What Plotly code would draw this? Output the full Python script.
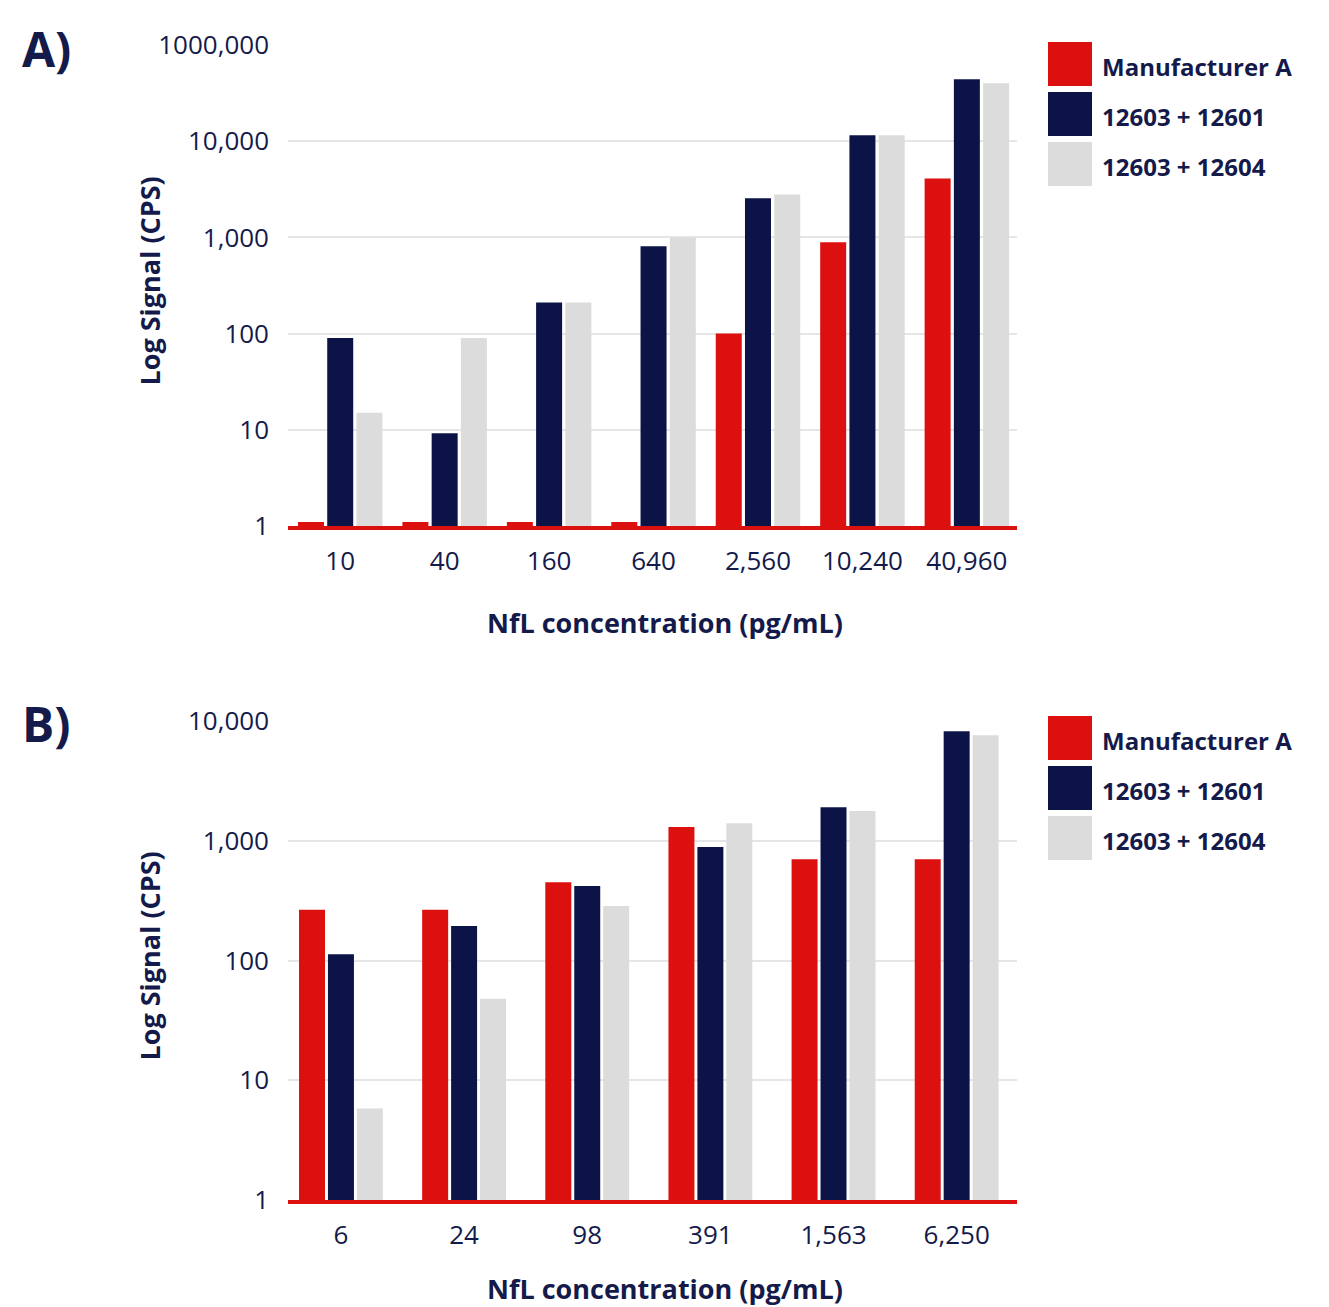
import plotly.graph_objects as go

# ---- data -------------------------------------------------------------
series_names = ["Manufacturer A", "12603 + 12601", "12603 + 12604"]
series_colors = ["#dd1010", "#0c1447", "#dcdcdc"]

conc_a = ["10", "40", "160", "640", "2,560", "10,240", "40,960"]
manufacturer_a_a = [1.1, 1.1, 1.1, 1.1, 100, 890, 4100]
pair_12601_a = [90, 9.2, 210, 810, 2550, 11500, 44000]
pair_12604_a = [15, 90, 210, 1000, 2800, 11500, 40000]

conc_b = ["6", "24", "98", "391", "1,563", "6,250"]
manufacturer_a_b = [265, 265, 450, 1300, 700, 700]
pair_12601_b = [113, 194, 418, 885, 1900, 8200]
pair_12604_b = [5.8, 48, 285, 1400, 1770, 7600]

ticks_a = [1, 10, 100, 1000, 10000, 100000]
ticktext_a = ["1", "10", "100", "1,000", "10,000", "1000,000"]
ticks_b = [1, 10, 100, 1000, 10000]
ticktext_b = ["1", "10", "100", "1,000", "10,000"]

# ---- figure geometry --------------------------------------------------
W, H = 1329, 1307
TXT = "#141a4a"
FONT = "Open Sans"


def px_x(x):
    return x / W


def px_y(y):
    return 1 - y / H


fig = go.Figure()

panels = [
    dict(cats=conc_a, vals=[manufacturer_a_a, pair_12601_a, pair_12604_a],
         xa="x", ya="y", bar_w=0.249, slot=0.28),
    dict(cats=conc_b, vals=[manufacturer_a_b, pair_12601_b, pair_12604_b],
         xa="x2", ya="y2", bar_w=0.211, slot=0.235),
]

for p in panels:
    for i, (name, color, vals) in enumerate(zip(series_names, series_colors, p["vals"])):
        fig.add_trace(go.Bar(
            x=p["cats"], y=vals, name=name, marker_color=color,
            marker_line_width=0, width=p["bar_w"],
            offset=(i - 1) * p["slot"] - p["bar_w"] / 2,
            xaxis=p["xa"], yaxis=p["ya"], showlegend=False,
        ))

axis_common = dict(showline=True, linecolor="#dd1010", linewidth=4,
                   tickfont=dict(family=FONT, size=26, color=TXT),
                   ticks="", showgrid=False, fixedrange=True, automargin=False)
yaxis_common = dict(type="log", showline=False, gridcolor="#e6e6e6",
                    gridwidth=2, zeroline=False, ticks="",
                    tickfont=dict(family=FONT, size=26, color=TXT),
                    ticklabelstandoff=18, fixedrange=True, automargin=False)

fig.update_layout(
    width=W, height=H,
    margin=dict(l=0, r=0, t=0, b=0, pad=0, autoexpand=False),
    paper_bgcolor="white", plot_bgcolor="white",
    barmode="overlay",
    xaxis=dict(domain=[px_x(288), px_x(1017)], anchor="y",
               range=[-0.5, 6.48], ticklabelstandoff=9, **axis_common),
    yaxis=dict(domain=[px_y(526), px_y(45)], anchor="x",
               range=[0, 5], tickvals=ticks_a, ticktext=ticktext_a,
               **yaxis_common),
    xaxis2=dict(domain=[px_x(288), px_x(1017)], anchor="y2",
                range=[-0.43, 5.49], ticklabelstandoff=9, **axis_common),
    yaxis2=dict(domain=[px_y(1200), px_y(721)], anchor="x2",
                range=[0, 4], tickvals=ticks_b, ticktext=ticktext_b,
                **yaxis_common),
)

annotations = []
shapes = []

# panel labels, axis titles, legends
for label, top, plot_top, plot_bot, x_title_y, leg_top in [
    ("A)", 48, 45, 526, 622, 42),
    ("B)", 723, 721, 1200, 1288, 716),
]:
    annotations.append(dict(
        text=f"<b>{label}</b>", x=px_x(20), y=px_y(top), xref="paper", yref="paper",
        xanchor="left", yanchor="middle", showarrow=False,
        font=dict(family=FONT, size=48, color=TXT)))
    annotations.append(dict(
        text="<b>Log Signal (CPS)</b>", x=px_x(149), y=px_y((plot_top + plot_bot) / 2 - 4),
        xref="paper", yref="paper", textangle=-90, showarrow=False,
        xanchor="center", yanchor="middle",
        font=dict(family=FONT, size=27, color=TXT)))
    annotations.append(dict(
        text="<b>NfL concentration (pg/mL)</b>", x=px_x(665), y=px_y(x_title_y),
        xref="paper", yref="paper", showarrow=False,
        xanchor="center", yanchor="middle",
        font=dict(family=FONT, size=27, color=TXT)))
    for i, (name, color) in enumerate(zip(series_names, series_colors)):
        y0 = leg_top + i * 50
        shapes.append(dict(type="rect", xref="paper", yref="paper",
                           x0=px_x(1048), x1=px_x(1092),
                           y0=px_y(y0), y1=px_y(y0 + 44),
                           fillcolor=color, line_width=0))
        annotations.append(dict(
            text=f"<b>{name}</b>", x=px_x(1100), y=px_y(y0 + 24),
            xref="paper", yref="paper", showarrow=False,
            xanchor="left", yanchor="middle",
            font=dict(family=FONT, size=24, color=TXT)))

fig.update_layout(annotations=annotations, shapes=shapes)

fig.write_html("out.html")
